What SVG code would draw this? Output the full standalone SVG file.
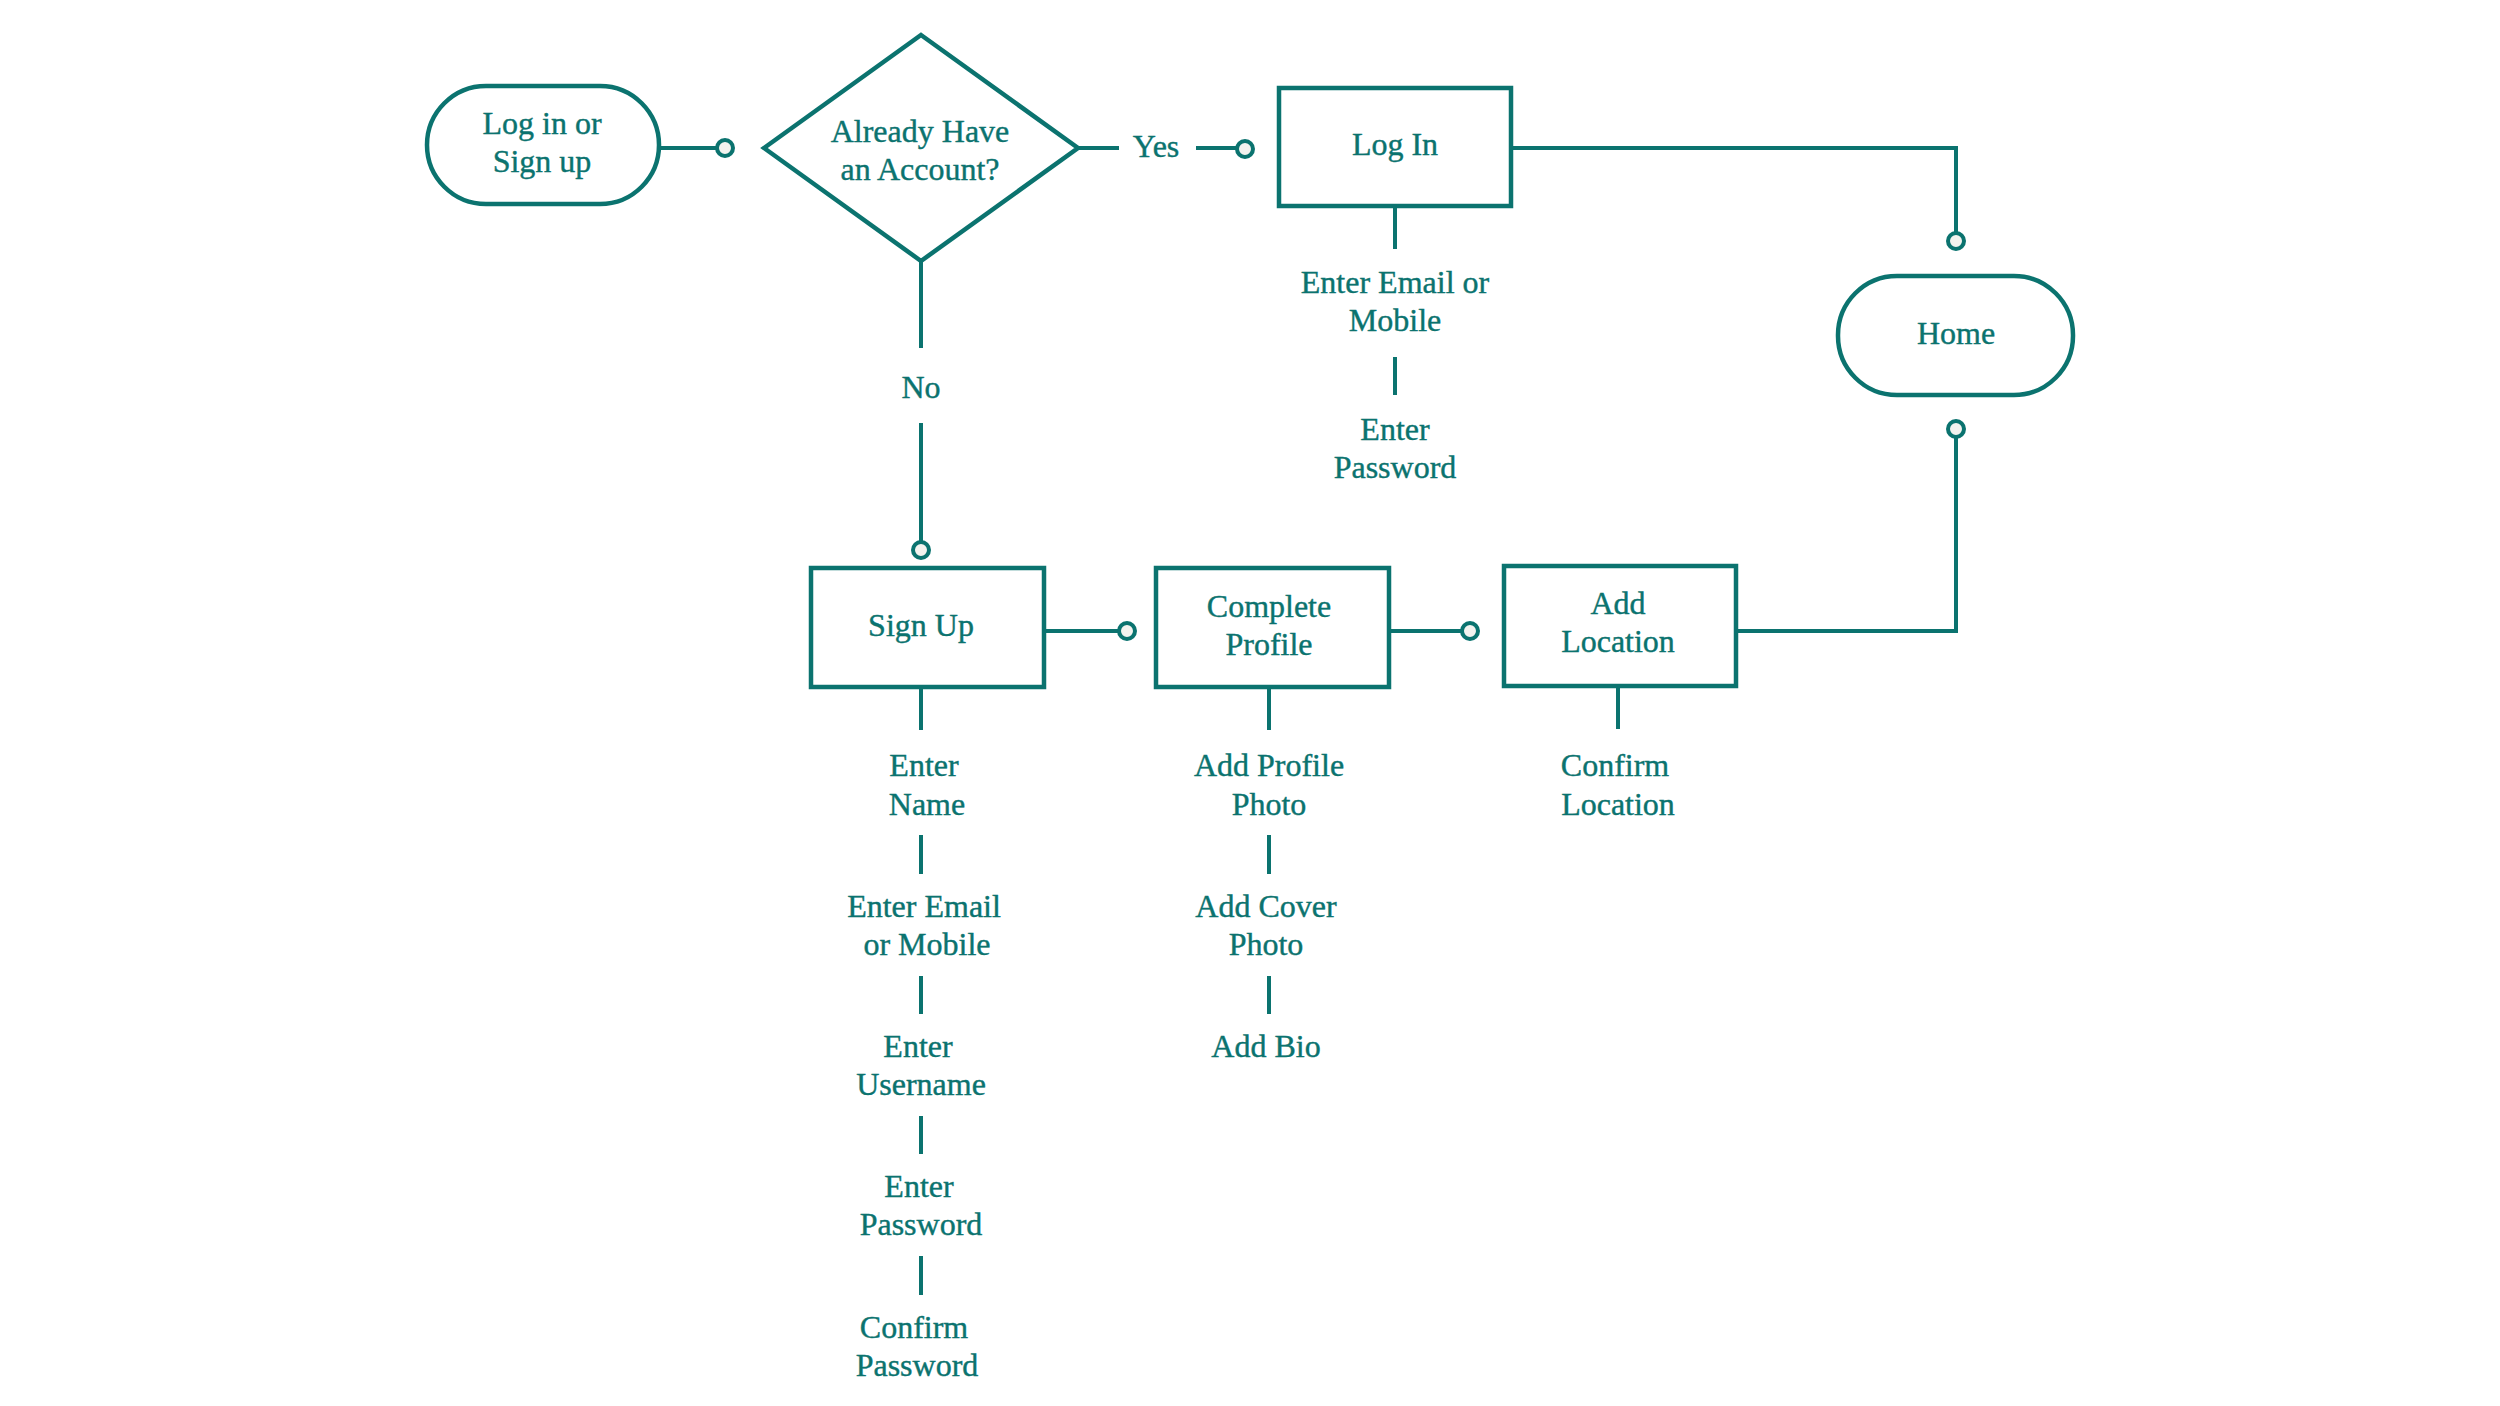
<svg xmlns="http://www.w3.org/2000/svg" width="2500" height="1406" viewBox="0 0 2500 1406">
<style>
.s{fill:none;stroke:#0b736f;stroke-width:4}
.n{fill:#fff;stroke:#0b736f;stroke-width:4.5}
.c{fill:#f3f3ef;stroke:#0b736f;stroke-width:4}
text{font-family:"Liberation Serif","DejaVu Serif",serif;font-size:32px;fill:#0b736f;stroke:#0b736f;stroke-width:0.4;text-anchor:middle;dominant-baseline:central}
</style>
<rect width="2500" height="1406" fill="#fff"/>
<g id="connectors">
<path class="s" d="M659 148H716"/>
<circle class="c" cx="725" cy="148" r="8"/>
<path class="s" d="M1078 148H1119M1196 148H1236"/>
<circle class="c" cx="1245" cy="149" r="8"/>
<text x="1156" y="146">Yes</text>
<path class="s" d="M1511 148H1956V233"/>
<circle class="c" cx="1956" cy="241" r="8"/>
<circle class="c" cx="1956" cy="429" r="8"/>
<path class="s" d="M1956 437V631H1736"/>
<path class="s" d="M921 261V348M921 423V542"/>
<circle class="c" cx="921" cy="550" r="8"/>
<text x="921" y="387">No</text>
<path class="s" d="M1044 631H1118"/>
<circle class="c" cx="1127" cy="631" r="8"/>
<path class="s" d="M1389 631H1461"/>
<circle class="c" cx="1470" cy="631" r="8"/>
<path class="s" d="M1395 206V249M1395 357V395"/>
<path class="s" d="M921 687V730M921 835V874M921 976V1014M921 1116V1154M921 1256V1295"/>
<path class="s" d="M1269 687V730M1269 835V874M1269 976V1014"/>
<path class="s" d="M1618 686V729"/>
</g>
<g id="start">
<rect class="n" x="427" y="86" width="232" height="118" rx="59"/>
<text x="542" y="123">Log in or</text>
<text x="542" y="161">Sign up</text>
</g>
<g id="decision">
<polygon class="n" points="921,35 1078,148 921,261 764,148"/>
<text x="920" y="131">Already Have</text>
<text x="920" y="169">an Account?</text>
</g>
<g id="login">
<rect class="n" x="1279" y="88" width="232" height="118"/>
<text x="1395" y="144">Log In</text>
</g>
<g id="login-steps">
<text x="1395" y="282">Enter Email or</text>
<text x="1395" y="320">Mobile</text>
<text x="1395" y="429">Enter</text>
<text x="1395" y="467">Password</text>
</g>
<g id="home">
<rect class="n" x="1838" y="276" width="235" height="119" rx="59"/>
<text x="1956" y="333">Home</text>
</g>
<g id="signup">
<rect class="n" x="811" y="568" width="233" height="119"/>
<text x="921" y="625">Sign Up</text>
</g>
<g id="signup-steps">
<text x="924" y="765">Enter</text>
<text x="927" y="804">Name</text>
<text x="924" y="906">Enter Email</text>
<text x="927" y="944">or Mobile</text>
<text x="918" y="1046">Enter</text>
<text x="921" y="1084">Username</text>
<text x="919" y="1186">Enter</text>
<text x="921" y="1224">Password</text>
<text x="914" y="1327">Confirm</text>
<text x="917" y="1365">Password</text>
</g>
<g id="profile">
<rect class="n" x="1156" y="568" width="233" height="119"/>
<text x="1269" y="606">Complete</text>
<text x="1269" y="644">Profile</text>
</g>
<g id="profile-steps">
<text x="1269" y="765">Add Profile</text>
<text x="1269" y="804">Photo</text>
<text x="1266" y="906">Add Cover</text>
<text x="1266" y="944">Photo</text>
<text x="1266" y="1046">Add Bio</text>
</g>
<g id="location">
<rect class="n" x="1504" y="566" width="232" height="120"/>
<text x="1618" y="603">Add</text>
<text x="1618" y="641">Location</text>
</g>
<g id="location-steps">
<text x="1615" y="765">Confirm</text>
<text x="1618" y="804">Location</text>
</g>
</svg>
